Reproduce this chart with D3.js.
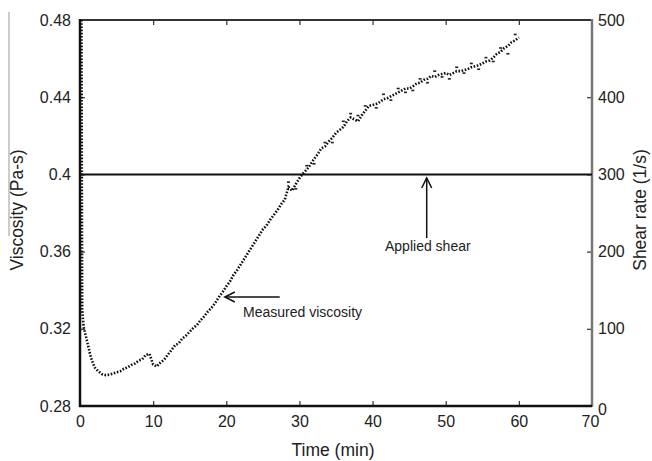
<!DOCTYPE html>
<html>
<head>
<meta charset="utf-8">
<script src="https://cdn.jsdelivr.net/npm/d3@7"></script>
<style>
  body { margin: 0; background: #fff; }
  text { font-family: "Liberation Sans", Arial, sans-serif; fill: #222; }
</style>
</head>
<body>
<div id="chart"></div>
<script>
// Measured viscosity (Pa-s) vs time (min)
const timeMin = [0.2, 0.3, 0.5, 1.0, 1.5, 2.0, 2.5, 3.0, 3.5, 4.0, 4.5, 5.0, 5.5, 6.0, 6.5, 7.0, 7.5, 8.0, 8.5, 9.0, 9.5,
  10.0, 10.5, 11.0, 11.5, 12.0, 12.5, 13.0, 13.5, 14.0, 14.5, 15.0, 15.5, 16.0, 16.5, 17.0, 17.5, 18.0, 18.5, 19.0, 19.5,
  20.0, 20.5, 21.0, 21.5, 22.0, 22.5, 23.0, 23.5, 24.0, 24.5, 25.0, 25.5, 26.0, 26.5, 27.0, 27.5, 28.0, 28.5, 29.0, 29.5,
  30.0, 30.5, 31.0, 31.5, 32.0, 32.5, 33.0, 33.5, 34.0, 34.5, 35.0, 35.5, 36.0, 36.5, 37.0, 37.5, 38.0, 38.5, 39.0, 39.5,
  40.0, 40.5, 41.0, 41.5, 42.0, 42.5, 43.0, 43.5, 44.0, 44.5, 45.0, 45.5, 46.0, 46.5, 47.0, 47.5, 48.0, 48.5, 49.0, 49.5,
  50.0, 50.5, 51.0, 51.5, 52.0, 52.5, 53.0, 53.5, 54.0, 54.5, 55.0, 55.5, 56.0, 56.5, 57.0, 57.5, 58.0, 58.5, 59.0, 59.5, 60.0];
const viscosity = [0.480, 0.330, 0.321, 0.313, 0.305, 0.300, 0.298, 0.2965, 0.296, 0.2962, 0.2968, 0.2975, 0.298, 0.2993, 0.300, 0.3012, 0.302, 0.3035, 0.3042, 0.3065, 0.307,
  0.3015, 0.3005, 0.3025, 0.304, 0.3065, 0.309, 0.3115, 0.3125, 0.315, 0.3165, 0.3185, 0.3205, 0.322, 0.3245, 0.3265, 0.329, 0.331, 0.3335, 0.3365, 0.339,
  0.342, 0.3445, 0.348, 0.3505, 0.3535, 0.3565, 0.3595, 0.3625, 0.3655, 0.3685, 0.3715, 0.3735, 0.3765, 0.379, 0.3815, 0.3845, 0.387, 0.3935, 0.3915, 0.395,
  0.398, 0.4005, 0.4025, 0.405, 0.408, 0.4105, 0.4135, 0.4145, 0.417, 0.419, 0.4215, 0.423, 0.4245, 0.4275, 0.4295, 0.4285, 0.4275, 0.4305, 0.433, 0.4355,
  0.436, 0.4365, 0.4375, 0.439, 0.4395, 0.4405, 0.4415, 0.4425, 0.4435, 0.4445, 0.4445, 0.4455, 0.447, 0.4475, 0.449, 0.4495, 0.451, 0.4505, 0.4515, 0.452,
  0.4525, 0.4515, 0.4525, 0.4535, 0.4535, 0.454, 0.4545, 0.4555, 0.456, 0.4565, 0.4575, 0.4585, 0.459, 0.4605, 0.4625, 0.4635, 0.4655, 0.4665, 0.4685, 0.4695, 0.471];

// scattered readings around the trace in the noisy upper part
const scatterTime = [28.5, 29.5, 31.0, 32.0, 33.5, 34.5, 36.0, 37.0, 38.0, 39.0, 40.5, 41.5, 42.5, 43.5, 44.5,
  45.5, 46.5, 47.5, 48.5, 49.5, 50.5, 51.5, 52.5, 53.5, 54.5, 55.5, 56.5, 57.5, 58.5, 59.5];
const scatterVisc = [0.396, 0.3925, 0.4045, 0.4055, 0.4165, 0.4165, 0.4275, 0.4315, 0.4305, 0.4355, 0.4345, 0.4415, 0.4385, 0.4445, 0.4425,
  0.4435, 0.4495, 0.4475, 0.4535, 0.4505, 0.4495, 0.4555, 0.4525, 0.4575, 0.4545, 0.4605, 0.4585, 0.4655, 0.4625, 0.4725];

// Applied shear rate (1/s)
const shearTime = [0, 70];
const shearRate = [300, 300];

const xTicks = [0, 10, 20, 30, 40, 50, 60, 70];
const yLeftTicks = [0.28, 0.32, 0.36, 0.40, 0.44, 0.48];
const yRightTicks = [0, 100, 200, 300, 400, 500];

const width = 652, height = 461;
const margin = { top: 20, right: 60, bottom: 55, left: 80 };

const svg = d3.select("#chart")
  .append("svg")
  .attr("width", width)
  .attr("height", height);

const x = d3.scaleLinear().domain([0, 70]).range([margin.left, width - margin.right]);
const yL = d3.scaleLinear().domain([0.28, 0.48]).range([height - margin.bottom, margin.top]);
const yR = d3.scaleLinear().domain([0, 500]).range([height - margin.bottom, margin.top]);

const x0 = x(0), x1 = x(70), yTop = yL(0.48), yBot = yL(0.28);

// scan artifact line on the far left
svg.append("line")
  .attr("x1", 9).attr("x2", 9).attr("y1", 12).attr("y2", 236)
  .attr("stroke", "#999").attr("stroke-width", 1);

// axes (inward ticks, no domain — frame drawn separately)
const bottomAxis = svg.append("g")
  .attr("transform", `translate(0,${yBot})`)
  .call(d3.axisBottom(x).tickValues(xTicks).tickSize(-5).tickPadding(10).tickFormat(d3.format("d")));
const topAxis = svg.append("g")
  .attr("transform", `translate(0,${yTop})`)
  .call(d3.axisTop(x).tickValues(xTicks).tickSize(-5).tickFormat(""));
const leftAxis = svg.append("g")
  .attr("transform", `translate(${x0},0)`)
  .call(d3.axisLeft(yL).tickValues(yLeftTicks).tickSize(-5).tickPadding(9)
    .tickFormat(d => d3.format("")(+d.toFixed(2))));
const rightAxis = svg.append("g")
  .attr("transform", `translate(${x1},0)`)
  .call(d3.axisRight(yR).tickValues(yRightTicks).tickSize(-5).tickPadding(6).tickFormat(d3.format("d")));

[bottomAxis, topAxis, leftAxis, rightAxis].forEach(g => {
  g.select(".domain").remove();
  g.selectAll(".tick line").attr("stroke", "#333").attr("stroke-width", 1.2);
  g.selectAll(".tick text")
    .style("font-family", "'Liberation Sans', Arial, sans-serif")
    .style("font-size", "16px")
    .attr("fill", "#222");
});
// hide tick marks at the corners
bottomAxis.selectAll(".tick").filter(d => d === 0 || d === 70).select("line").remove();
topAxis.selectAll(".tick").filter(d => d === 0 || d === 70).select("line").remove();
leftAxis.selectAll(".tick").filter(d => d === 0.28 || d === 0.48).select("line").remove();
rightAxis.selectAll(".tick").filter(d => d === 0 || d === 500).select("line").remove();
rightAxis.selectAll(".tick").filter(d => d === 0).select("text").attr("dy", "0.55em");
bottomAxis.selectAll(".tick").filter(d => d === 70).select("text").attr("dx", "-2");

// frame
svg.append("line").attr("x1", x0).attr("x2", x1).attr("y1", yTop).attr("y2", yTop)
  .attr("stroke", "#333").attr("stroke-width", 2);
svg.append("line").attr("x1", x1).attr("x2", x1).attr("y1", yTop - 1).attr("y2", yBot + 1)
  .attr("stroke", "#777").attr("stroke-width", 2.5);
svg.append("line").attr("x1", x0 - 1).attr("x2", x1).attr("y1", yBot).attr("y2", yBot)
  .attr("stroke", "#111").attr("stroke-width", 2.5);
svg.append("line").attr("x1", x0).attr("x2", x0).attr("y1", yTop - 1).attr("y2", yBot + 1)
  .attr("stroke", "#111").attr("stroke-width", 2.5);

// applied shear line (right axis)
const shearLine = d3.line().x(d => x(d[0])).y(d => yR(d[1]));
svg.append("path")
  .datum(shearTime.map((t, i) => [t, shearRate[i]]))
  .attr("d", shearLine)
  .attr("fill", "none")
  .attr("stroke", "#111")
  .attr("stroke-width", 2);

// measured viscosity, dotted trace
const viscLine = d3.line().x(d => x(d[0])).y(d => yL(d[1]));
svg.append("path")
  .datum(timeMin.map((t, i) => [t, viscosity[i]]))
  .attr("d", viscLine)
  .attr("fill", "none")
  .attr("stroke", "#111")
  .attr("stroke-width", 2.6)
  .attr("stroke-dasharray", "1.6 1.6");

// scattered readings as small dashes
svg.selectAll(".scatter")
  .data(scatterTime.map((t, i) => [t, scatterVisc[i]]))
  .join("rect")
  .attr("class", "scatter")
  .attr("x", d => x(d[0]) - 1.5)
  .attr("y", d => yL(d[1]) - 0.8)
  .attr("width", 3)
  .attr("height", 1.6)
  .attr("fill", "#222");

// annotations
const arrowHead = (g, tx, ty, dir) => {
  // open V arrowhead, dir: "left" or "up"
  const p = dir === "left"
    ? [[tx + 10, ty - 5], [tx, ty], [tx + 10, ty + 5]]
    : [[tx - 5, ty + 10], [tx, ty], [tx + 5, ty + 10]];
  g.append("path").attr("d", d3.line()(p))
    .attr("fill", "none").attr("stroke", "#111").attr("stroke-width", 1.5);
};

const ann = svg.append("g");
ann.append("line").attr("x1", x(27.3)).attr("x2", x(19.8)).attr("y1", 297).attr("y2", 297)
  .attr("stroke", "#111").attr("stroke-width", 1.5);
arrowHead(ann, x(19.8), 297, "left");
ann.append("text").attr("x", 243).attr("y", 317)
  .style("font-size", "14px").text("Measured viscosity");

ann.append("line").attr("x1", x(47.4)).attr("x2", x(47.4)).attr("y1", 238).attr("y2", 178)
  .attr("stroke", "#111").attr("stroke-width", 1.5);
arrowHead(ann, x(47.4), 178, "up");
ann.append("text").attr("x", 385).attr("y", 251)
  .style("font-size", "14px").text("Applied shear");

// axis titles
svg.append("text")
  .attr("x", (x0 + x1) / 2 - 3).attr("y", 456)
  .attr("text-anchor", "middle")
  .style("font-size", "17.5px")
  .text("Time (min)");
svg.append("text")
  .attr("transform", `translate(23,${210}) rotate(-90)`)
  .attr("text-anchor", "middle")
  .style("font-size", "17.5px")
  .text("Viscosity (Pa-s)");
svg.append("text")
  .attr("transform", `translate(646,${210}) rotate(-90)`)
  .attr("text-anchor", "middle")
  .style("font-size", "17.5px")
  .text("Shear rate (1/s)");
</script>
</body>
</html>
